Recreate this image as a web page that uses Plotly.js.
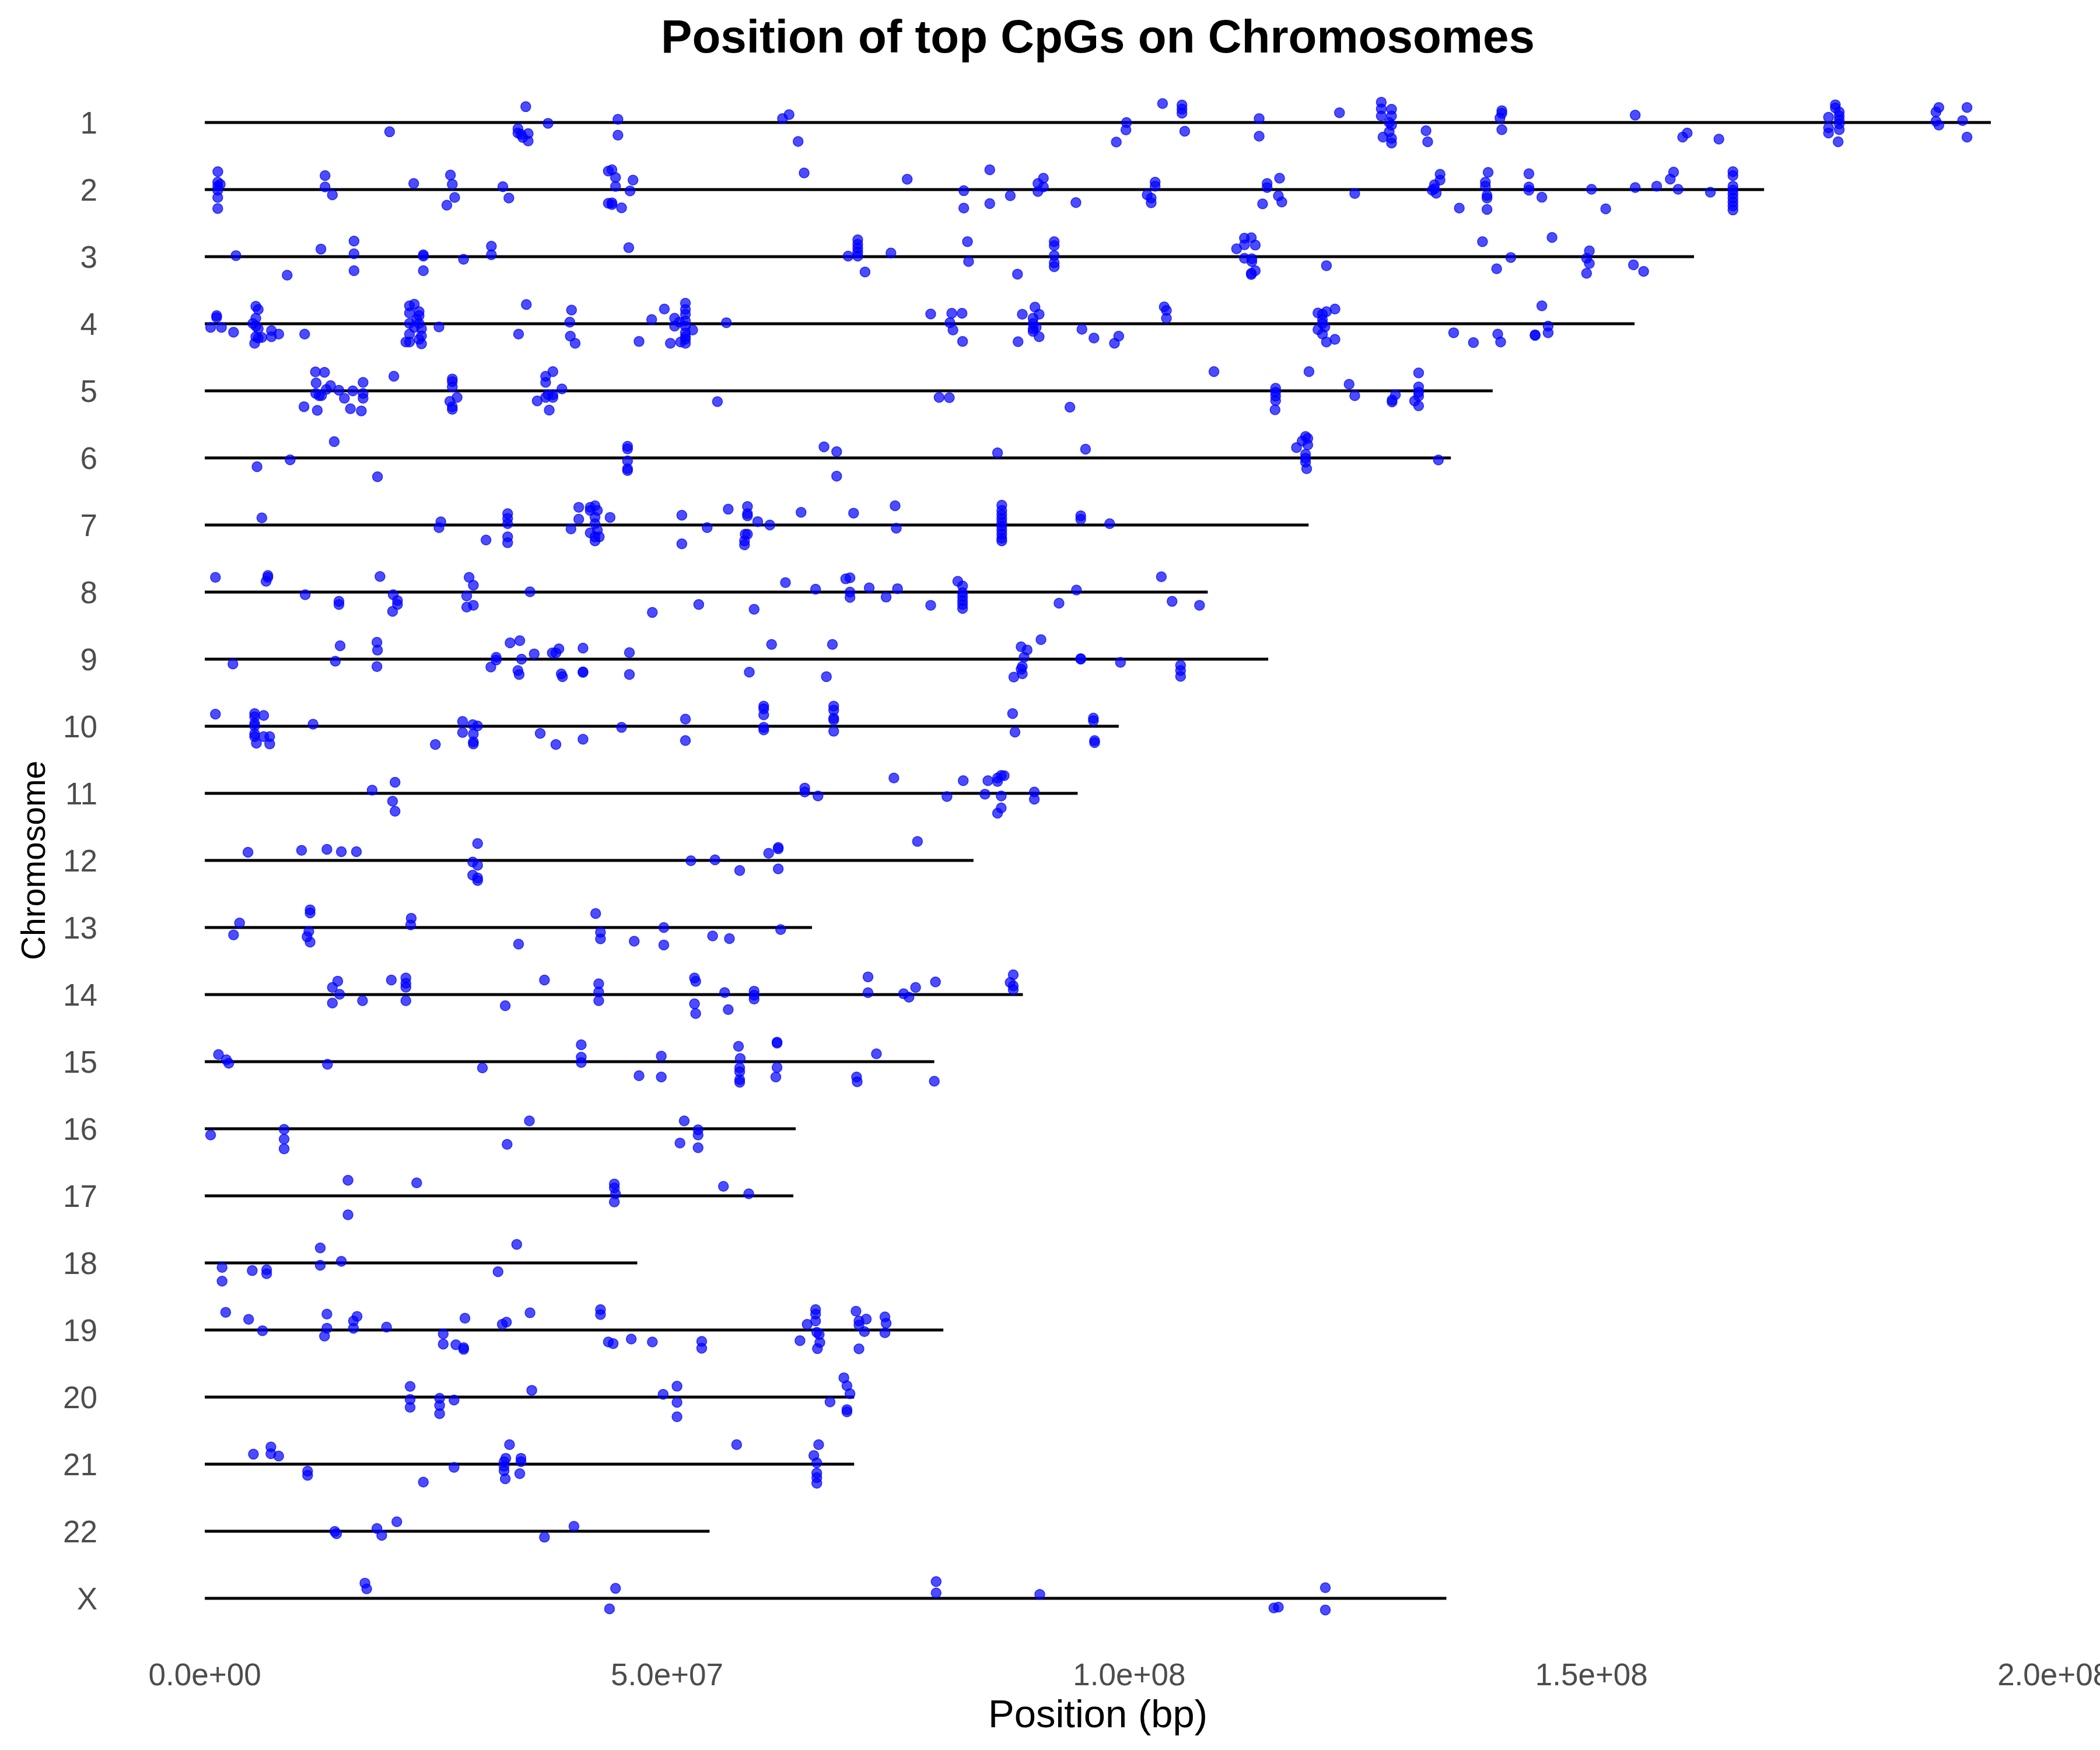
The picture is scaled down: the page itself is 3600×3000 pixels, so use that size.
<!DOCTYPE html>
<html>
<head>
<meta charset="utf-8">
<script src="https://cdn.plot.ly/plotly-3.0.1.min.js"></script>
<style>html,body{margin:0;padding:0;background:#fff;}#chart{width:3600px;height:3000px;}</style>
</head>
<body>
<div id="chart"></div>
<script>
// Chromosome names (top to bottom)
const chromosomes = ["1","2","3","4","5","6","7","8","9","10","11","12","13","14","15","16","17","18","19","20","21","22","X"];
// Length of the black segment drawn for each chromosome (Mb)
const chromEndMb = [193.2,168.67,161.09,154.66,139.31,134.79,119.4,108.49,115.03,98.86,94.42,83.15,65.68,88.49,78.91,63.92,63.66,46.78,79.89,70.24,70.24,54.6,134.3];
// x-axis ticks
const xTickVals = [0, 5e7, 1e8, 1.5e8, 2e8];
const xTickText = ["0.0e+00","5.0e+07","1.0e+08","1.5e+08","2.0e+08"];

// CpG points per chromosome: [position (Mb), vertical jitter (category units)]
const cpg_chr1 = [[34.72,-0.236],[37.13,0.012],[44.69,-0.047],[44.69,0.189],[19.99,0.138],[33.87,0.091],[33.87,0.157],[34.2,0.177],[34.98,0.165],[34.39,0.224],[34.98,0.276],[62.49,-0.059],[63.2,-0.118],[64.18,0.283],[99.70,0.0],[99.64,0.110],[98.6,0.291],[103.6,-0.283],[105.7,-0.26],[105.7,-0.20],[105.7,-0.14],[106.0,0.130],[114.05,-0.059],[114.05,0.205],[122.74,-0.146],[127.26,-0.303],[127.26,-0.205],[127.26,-0.098],[128.37,-0.197],[128.37,-0.098],[128.12,0.0],[128.37,0.039],[128.12,0.138],[127.45,0.217],[128.37,0.236],[128.37,0.307],[132.1,0.122],[132.28,0.287],[140.3,-0.177],[140.3,-0.138],[140.1,-0.067],[140.3,0.106],[154.73,-0.110],[159.86,0.217],[160.35,0.157],[163.78,0.248],[176.38,-0.264],[176.38,-0.217],[176.8,-0.157],[176.8,-0.098],[175.64,-0.079],[176.8,-0.039],[176.8,0.02],[175.64,0.079],[175.64,0.157],[176.8,0.106],[176.68,0.287],[187.26,-0.157],[187.57,-0.224],[187.26,-0.02],[187.57,0.039],[190.62,-0.224],[190.14,-0.028],[190.62,0.217]];
const cpg_chr2 = [[1.41,-0.268],[1.4,-0.11],[1.67,-0.079],[1.4,-0.051],[1.4,0.008],[1.4,0.118],[1.4,0.283],[13.01,-0.209],[13.01,-0.039],[13.8,0.079],[22.6,-0.091],[26.57,-0.217],[26.77,-0.079],[27.03,0.118],[26.18,0.232],[32.24,-0.043],[32.89,0.126],[43.65,-0.276],[44.04,-0.295],[44.43,-0.181],[44.43,-0.047],[46.32,-0.142],[46.0,0.02],[43.65,0.205],[44.04,0.197],[44.04,0.224],[45.08,0.272],[64.83,-0.248],[75.98,-0.154],[82.1,0.016],[82.1,0.276],[84.91,-0.295],[84.91,0.209],[87.13,0.091],[90.12,-0.091],[90.71,-0.169],[90.71,-0.039],[90.12,0.028],[94.23,0.193],[102.8,-0.11],[102.8,-0.051],[101.94,0.079],[102.37,0.126],[102.37,0.197],[114.91,-0.091],[114.91,-0.031],[116.26,-0.169],[116.13,0.094],[116.5,0.185],[114.42,0.213],[124.39,0.059],[133.62,-0.228],[133.62,-0.142],[133.01,-0.071],[133.01,-0.012],[132.77,0.008],[133.2,0.055],[135.7,0.276],[138.82,-0.256],[138.52,-0.11],[138.52,-0.051],[138.7,0.087],[138.7,0.126],[138.7,0.295],[143.23,-0.236],[143.23,-0.039],[143.23,0.008],[144.63,0.114],[150.0,-0.004],[151.54,0.287],[154.73,-0.031],[157.05,-0.051],[158.88,-0.26],[158.52,-0.157],[159.37,-0.004],[162.86,0.039],[165.3,-0.268],[165.3,-0.209],[165.3,-0.051],[165.3,0.008],[165.3,0.067],[165.3,0.126],[165.3,0.185],[165.3,0.244],[165.3,0.303]];
const cpg_chr3 = [[3.37,-0.016],[8.91,0.276],[12.56,-0.114],[16.14,-0.232],[16.14,-0.043],[16.14,0.209],[23.64,-0.028],[23.64,-0.008],[23.64,0.209],[27.99,0.039],[31.0,-0.157],[31.0,-0.028],[45.86,-0.134],[70.63,-0.252],[70.63,-0.185],[70.63,-0.126],[70.63,-0.067],[70.63,-0.008],[69.59,-0.008],[74.22,-0.055],[71.42,0.228],[82.5,-0.224],[82.62,0.071],[87.91,0.26],[91.88,-0.224],[91.88,-0.165],[91.88,-0.016],[91.88,0.091],[91.88,0.15],[112.46,-0.276],[113.2,-0.283],[111.61,-0.118],[112.46,-0.177],[113.63,-0.173],[112.46,0.024],[113.26,0.031],[113.26,0.071],[113.63,0.209],[113.2,0.248],[113.2,0.268],[121.33,0.134],[138.21,-0.224],[141.27,0.012],[139.74,0.181],[145.73,-0.287],[149.77,-0.087],[149.47,0.024],[149.77,0.102],[149.47,0.248],[154.54,0.122],[155.64,0.22]];
const cpg_chr4 = [[1.28,-0.122],[1.28,-0.094],[0.63,0.055],[1.8,0.055],[3.11,0.126],[5.52,-0.26],[5.78,-0.213],[5.52,-0.083],[5.19,-0.004],[5.52,0.035],[5.78,0.075],[5.52,0.193],[5.78,0.213],[5.39,0.291],[6.17,0.205],[7.21,0.102],[7.21,0.193],[8.0,0.154],[10.8,0.154],[22.14,-0.268],[22.66,-0.291],[22.14,-0.161],[23.18,-0.181],[23.18,-0.122],[22.92,-0.063],[22.14,-0.004],[23.18,-0.004],[22.66,0.055],[23.44,0.075],[22.14,0.154],[23.44,0.181],[22.14,0.272],[23.18,0.232],[21.75,0.272],[23.44,0.299],[25.33,0.047],[34.78,-0.287],[39.67,-0.205],[39.48,-0.024],[39.54,0.185],[40.06,0.291],[33.94,0.154],[46.97,0.264],[49.71,-0.22],[48.34,-0.063],[50.36,0.291],[51.99,-0.307],[51.99,-0.213],[51.99,-0.142],[50.82,-0.083],[51.34,-0.024],[51.99,-0.043],[51.99,0.035],[52.77,0.094],[50.82,0.035],[51.99,0.134],[51.99,0.193],[51.47,0.272],[51.99,0.291],[51.99,0.232],[56.42,-0.016],[78.52,-0.146],[80.8,-0.157],[81.91,-0.157],[80.6,-0.016],[80.93,0.094],[81.97,0.264],[87.97,0.268],[89.8,-0.248],[88.43,-0.142],[90.25,-0.142],[89.6,-0.083],[89.6,-0.004],[89.6,0.075],[89.93,0.055],[90.25,0.193],[89.6,0.114],[94.88,0.083],[96.18,0.213],[98.86,0.185],[98.4,0.291],[103.78,-0.252],[104.02,-0.2],[104.02,-0.083],[120.41,-0.161],[121.33,-0.181],[122.25,-0.22],[120.9,-0.142],[120.9,-0.063],[120.9,-0.004],[120.41,0.087],[121.15,0.047],[120.9,0.154],[121.33,0.272],[122.25,0.232],[144.63,-0.268],[145.31,0.035],[145.31,0.134],[135.09,0.134],[137.23,0.28],[139.86,0.154],[140.17,0.272],[143.9,0.165],[143.9,0.173]];
const cpg_chr5 = [[11.97,-0.283],[12.95,-0.276],[12.04,-0.118],[13.6,-0.079],[13.14,-0.02],[14.51,-0.008],[12.0,0.039],[12.36,0.071],[12.62,0.071],[16.01,0.0],[17.12,-0.126],[17.12,0.039],[17.12,0.11],[15.1,0.11],[10.73,0.236],[12.17,0.291],[15.75,0.268],[16.93,0.299],[20.45,-0.217],[26.77,-0.177],[26.77,-0.138],[26.77,-0.059],[27.29,0.098],[26.51,0.157],[26.77,0.236],[26.77,0.276],[36.87,-0.217],[36.87,-0.126],[37.65,-0.287],[38.63,-0.028],[37.13,0.059],[37.65,0.098],[37.65,0.059],[36.87,0.098],[35.96,0.15],[37.26,0.287],[55.45,0.161],[79.43,0.098],[80.54,0.102],[93.58,0.244],[109.16,-0.287],[119.44,-0.287],[115.83,-0.039],[115.83,0.02],[115.83,0.079],[115.83,0.146],[115.77,0.283],[123.78,-0.098],[124.39,0.071],[131.3,-0.268],[131.3,-0.059],[131.3,0.02],[131.3,0.079],[128.79,0.059],[128.43,0.138],[128.43,0.165],[130.87,0.15],[131.3,0.224]];
const cpg_chr6 = [[14.0,-0.244],[9.23,0.028],[5.65,0.13],[18.68,0.28],[45.73,-0.173],[45.73,-0.134],[45.73,0.043],[45.73,0.161],[45.73,0.189],[66.98,-0.165],[68.35,-0.094],[68.35,0.272],[85.75,-0.075],[95.27,-0.13],[119.07,-0.32],[119.31,-0.291],[118.7,-0.252],[118.09,-0.154],[119.31,-0.193],[119.07,-0.055],[119.07,0.004],[119.07,0.063],[119.19,0.161],[133.44,0.031]];
const cpg_chr7 = [[6.17,-0.106],[25.53,-0.047],[25.33,0.039],[32.76,-0.169],[32.76,-0.098],[32.76,-0.02],[30.42,0.224],[32.76,0.177],[32.76,0.264],[40.45,-0.264],[40.45,-0.087],[39.61,0.059],[41.69,-0.264],[42.21,-0.287],[42.47,-0.217],[41.69,-0.217],[42.21,-0.118],[42.21,-0.02],[42.47,0.079],[41.69,0.118],[42.21,0.177],[42.67,0.177],[42.21,0.236],[43.84,-0.114],[51.6,-0.146],[51.6,0.28],[54.34,0.039],[56.62,-0.236],[58.7,-0.276],[58.7,-0.169],[58.7,-0.138],[59.81,-0.051],[61.12,0.0],[58.45,0.138],[58.7,0.138],[58.38,0.236],[58.38,0.295],[64.5,-0.189],[70.18,-0.177],[74.67,-0.287],[74.8,0.047],[86.21,-0.295],[86.21,-0.217],[86.21,-0.157],[86.21,-0.098],[86.21,-0.039],[86.21,0.02],[86.21,0.079],[86.21,0.138],[86.21,0.197],[86.21,0.236],[94.75,-0.138],[94.75,-0.087],[97.88,-0.02]];
const cpg_chr8 = [[1.15,-0.22],[6.82,-0.248],[6.82,-0.22],[6.63,-0.161],[10.86,0.039],[14.51,0.138],[14.51,0.185],[18.95,-0.232],[20.38,0.039],[20.84,0.126],[20.84,0.185],[20.31,0.287],[28.59,-0.22],[29.05,-0.102],[28.33,0.059],[28.33,0.224],[29.05,0.197],[35.18,-0.004],[48.41,0.303],[53.43,0.185],[59.42,0.256],[62.81,-0.142],[66.07,-0.043],[69.33,-0.197],[69.79,-0.213],[69.79,0.0],[69.79,0.079],[71.87,-0.063],[73.7,0.075],[74.93,-0.051],[78.52,0.197],[81.45,-0.161],[81.97,-0.091],[81.97,0.008],[81.97,0.067],[81.97,0.126],[81.97,0.185],[81.97,0.244],[94.29,-0.031],[92.4,0.165],[103.47,-0.228],[104.63,0.138],[107.6,0.197]];
const cpg_chr9 = [[3.04,0.071],[14.64,-0.2],[14.12,0.031],[18.62,-0.252],[18.68,-0.134],[18.62,0.11],[30.94,0.118],[31.52,-0.028],[31.52,0.012],[33.02,-0.244],[34.07,-0.276],[34.26,0.0],[33.87,0.169],[34.0,0.228],[35.63,-0.079],[37.59,-0.094],[37.98,-0.094],[38.3,-0.154],[38.56,0.22],[38.69,0.26],[40.91,-0.165],[40.91,0.189],[40.91,0.197],[45.93,-0.098],[45.93,0.228],[58.9,0.193],[61.31,-0.22],[67.89,-0.22],[67.24,0.26],[90.45,-0.291],[88.3,-0.185],[88.95,-0.138],[88.62,-0.028],[88.43,0.11],[88.3,0.15],[88.43,0.217],[87.51,0.268],[94.75,-0.008],[94.75,0.0],[99.05,0.047],[105.55,0.091],[105.55,0.169],[105.55,0.256]];
const cpg_chr10 = [[1.15,-0.181],[5.39,-0.189],[5.39,-0.142],[6.37,-0.161],[5.39,-0.043],[5.39,-0.004],[5.39,0.114],[5.39,0.154],[6.37,0.154],[7.02,0.154],[5.58,0.252],[7.02,0.264],[11.71,-0.031],[27.88,-0.071],[27.88,0.094],[28.98,-0.024],[29.5,-0.004],[29.05,0.114],[29.05,0.232],[29.05,0.264],[24.94,0.272],[36.28,0.106],[37.98,0.272],[40.91,0.193],[45.08,0.016],[51.99,-0.106],[51.99,0.213],[60.46,-0.299],[60.46,-0.26],[60.46,-0.169],[60.46,0.016],[60.46,0.055],[68.03,-0.299],[68.03,-0.24],[68.03,-0.122],[68.03,-0.094],[68.03,0.075],[87.38,-0.189],[87.64,0.087],[96.12,-0.122],[96.12,-0.083],[96.25,0.213],[96.25,0.244]];
const cpg_chr11 = [[18.1,-0.047],[20.58,-0.165],[20.31,0.118],[20.58,0.268],[64.9,-0.079],[64.9,-0.02],[66.33,0.039],[74.54,-0.228],[80.28,0.047],[82.04,-0.189],[84.39,0.012],[84.71,-0.189],[85.75,-0.177],[85.75,-0.228],[86.15,-0.268],[86.47,-0.264],[86.15,0.039],[86.15,0.217],[85.75,0.295],[89.73,-0.02],[89.73,0.087]];
const cpg_chr12 = [[4.67,-0.122],[10.47,-0.15],[13.21,-0.165],[14.77,-0.13],[16.4,-0.13],[29.51,-0.252],[28.98,0.024],[29.51,0.071],[28.98,0.22],[29.51,0.26],[29.51,0.299],[52.58,0.004],[55.19,-0.008],[57.86,0.15],[60.99,-0.106],[62.03,-0.193],[62.03,-0.173],[62.03,0.126],[77.09,-0.283]];
const cpg_chr13 = [[3.76,-0.067],[3.11,0.11],[11.39,-0.264],[11.39,-0.217],[11.25,0.059],[11.06,0.138],[11.39,0.217],[22.33,-0.138],[22.27,-0.039],[33.94,0.248],[42.28,-0.209],[42.8,0.071],[42.8,0.169],[46.45,0.205],[49.65,0.0],[49.65,0.26],[54.93,0.126],[56.75,0.165],[62.29,0.031]];
const cpg_chr14 = [[14.38,-0.201],[13.8,-0.106],[14.58,-0.004],[13.8,0.126],[17.06,0.091],[20.18,-0.217],[21.75,-0.248],[21.75,-0.169],[21.75,-0.11],[21.75,0.091],[32.5,0.165],[36.74,-0.217],[42.61,-0.161],[42.61,-0.039],[42.61,0.091],[52.97,-0.248],[53.1,-0.197],[52.97,0.138],[53.1,0.283],[56.23,-0.031],[56.62,0.224],[59.42,-0.051],[59.42,0.008],[59.42,0.067],[71.74,-0.264],[71.74,-0.028],[75.59,-0.012],[76.17,0.039],[76.89,-0.106],[79.04,-0.189],[87.45,-0.295],[87.12,-0.181],[87.45,-0.13],[87.45,-0.071]];
const cpg_chr15 = [[1.48,-0.106],[2.33,-0.028],[2.59,0.024],[13.27,0.039],[30.03,0.094],[40.72,-0.252],[40.72,-0.067],[40.72,0.012],[46.97,0.209],[49.38,-0.083],[49.38,0.228],[57.73,-0.228],[57.92,-0.047],[57.86,0.091],[57.86,0.15],[57.86,0.268],[57.86,0.307],[61.9,-0.291],[61.9,-0.276],[61.9,0.087],[61.77,0.228],[70.5,0.228],[70.57,0.299],[72.65,-0.118],[78.91,0.291]];
const cpg_chr16 = [[0.63,0.094],[8.58,0.008],[8.58,0.154],[8.58,0.299],[35.11,-0.118],[32.7,0.232],[51.86,-0.118],[53.36,0.016],[53.36,0.094],[51.4,0.213],[53.36,0.283]];
const cpg_chr17 = [[15.49,-0.232],[22.92,-0.193],[15.49,0.283],[44.3,-0.177],[44.3,-0.118],[44.43,-0.028],[44.3,0.091],[56.1,-0.142],[58.84,-0.031]];
const cpg_chr18 = [[1.87,0.067],[1.87,0.272],[5.13,0.114],[6.69,0.102],[6.69,0.161],[12.49,-0.224],[12.49,0.035],[14.77,-0.024],[33.74,-0.276],[31.72,0.13]];
const cpg_chr19 = [[2.26,-0.264],[4.74,-0.159],[6.24,0.01],[13.21,-0.237],[13.21,-0.027],[12.95,0.091],[16.47,-0.203],[16.08,-0.135],[16.08,-0.027],[19.66,-0.044],[25.79,0.058],[25.79,0.21],[27.16,0.22],[28.0,0.264],[28.0,0.288],[28.14,-0.176],[32.18,-0.085],[32.63,-0.118],[35.18,-0.257],[42.8,-0.304],[42.8,-0.23],[43.65,0.179],[44.17,0.203],[46.13,0.135],[48.41,0.179],[53.75,0.169],[53.75,0.271],[64.38,0.159],[65.16,-0.085],[66.07,-0.304],[66.07,-0.237],[66.07,-0.135],[66.2,0.034],[66.46,0.068],[66.53,0.186],[66.27,0.277],[70.44,-0.281],[70.76,-0.135],[70.76,-0.074],[71.55,-0.162],[71.35,0.024],[70.76,0.281],[73.57,-0.196],[73.7,-0.101],[73.57,0.041]];
const cpg_chr20 = [[22.21,-0.159],[22.21,0.034],[22.21,0.152],[25.4,0.017],[25.4,0.125],[25.4,0.247],[26.96,0.044],[35.37,-0.101],[49.58,-0.041],[51.08,-0.162],[51.08,0.078],[51.08,0.294],[67.63,0.071],[69.13,-0.288],[69.46,-0.169],[69.79,-0.051],[69.46,0.186],[69.46,0.22]];
const cpg_chr21 = [[5.26,-0.149],[7.15,-0.257],[7.15,-0.156],[7.99,-0.122],[11.12,0.105],[11.12,0.166],[23.64,0.267],[26.96,0.047],[32.96,-0.291],[32.37,-0.037],[32.37,0.03],[32.56,-0.088],[32.37,0.098],[32.5,0.217],[34.2,-0.088],[34.2,-0.037],[34.07,0.142],[57.53,-0.291],[66.4,-0.291],[65.88,-0.129],[66.2,-0.02],[66.2,0.132],[66.2,0.2],[66.2,0.284]];
const cpg_chr22 = [[14.06,0.003],[14.25,0.037],[18.62,-0.041],[19.14,0.061],[20.77,-0.142],[36.74,0.088],[39.93,-0.074]];
const cpg_chrX = [[17.32,-0.227],[17.51,-0.142],[44.43,-0.149],[43.78,0.156],[79.11,-0.25],[79.11,-0.081],[90.32,-0.058],[115.64,0.144],[116.13,0.13],[121.21,-0.159],[121.21,0.173]];

const cpgByChrom = [cpg_chr1,cpg_chr2,cpg_chr3,cpg_chr4,cpg_chr5,cpg_chr6,cpg_chr7,cpg_chr8,cpg_chr9,cpg_chr10,cpg_chr11,cpg_chr12,cpg_chr13,cpg_chr14,cpg_chr15,cpg_chr16,cpg_chr17,cpg_chr18,cpg_chr19,cpg_chr20,cpg_chr21,cpg_chr22,cpg_chrX];

// Build traces
const lineX = [], lineY = [];
chromosomes.forEach((c, i) => {
  lineX.push(0, chromEndMb[i] * 1e6, null);
  lineY.push(i + 1, i + 1, null);
});
const ptX = [], ptY = [];
cpgByChrom.forEach((arr, i) => {
  arr.forEach(p => { ptX.push(p[0] * 1e6); ptY.push(i + 1 + p[1]); });
});

const FONT = '"Liberation Sans", Arial, Helvetica, sans-serif';
const traces = [
  {type: 'scatter', mode: 'lines', x: lineX, y: lineY, line: {color: '#000000', width: 5}, hoverinfo: 'skip', showlegend: false},
  {type: 'scatter', mode: 'markers', x: ptX, y: ptY,
   marker: {size: 17, color: 'rgba(0,0,255,0.7)', line: {width: 1.5, color: 'rgba(0,0,255,0.75)'}},
   showlegend: false}
];

const layout = {
  width: 3600, height: 3000,
  paper_bgcolor: '#ffffff', plot_bgcolor: '#ffffff',
  margin: {l: 198, r: 34, t: 141, b: 191, pad: 0},
  font: {family: FONT, color: '#000000'},
  title: {text: '<b>Position of top CpGs on Chromosomes</b>', font: {family: FONT, size: 80, color: '#000000'},
          x: 0.5, xref: 'paper', xanchor: 'center', y: 1 - 62 / 3000, yref: 'container', yanchor: 'middle'},
  xaxis: {range: [-9.66e6, 202.86e6], tickvals: xTickVals, ticktext: xTickText,
          showgrid: false, zeroline: false, showline: false, ticks: '',
          tickfont: {family: FONT, size: 53, color: '#4D4D4D'},
          ticklabelstandoff: 26, ticklabeloverflow: 'allow',
          title: {text: 'Position (bp)', font: {family: FONT, size: 67, color: '#000000'}, standoff: 12}},
  yaxis: {range: [23.6, 0.4], tickvals: chromosomes.map((c, i) => i + 1), ticktext: chromosomes,
          showgrid: false, zeroline: false, showline: false, ticks: '',
          tickfont: {family: FONT, size: 53, color: '#4D4D4D'},
          ticklabelstandoff: 30,
          title: {text: 'Chromosome', font: {family: FONT, size: 57, color: '#000000'}, standoff: 12}}
};

Plotly.newPlot('chart', traces, layout, {staticPlot: true, displayModeBar: false});
</script>
</body>
</html>
